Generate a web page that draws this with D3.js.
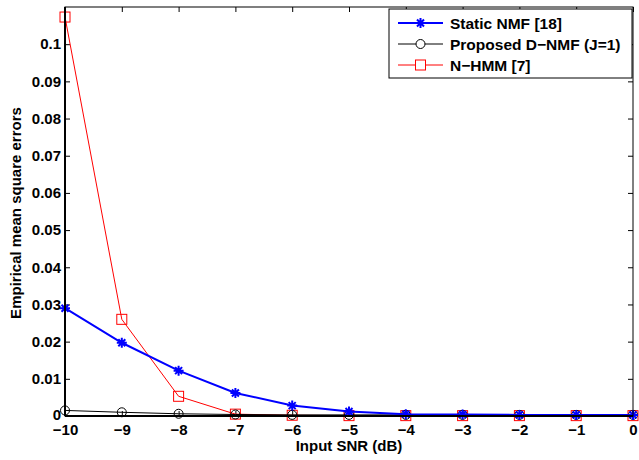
<!DOCTYPE html>
<html>
<head>
<meta charset="utf-8">
<script src="https://cdn.jsdelivr.net/npm/d3@7"></script>
<style>
  body { margin: 0; background: #fff; }
  svg { font-family: "Liberation Sans", Arial, sans-serif; font-weight: bold; }
</style>
</head>
<body>
<svg id="chart" width="639" height="460"></svg>
<script>
var snr = [-10, -9, -8, -7, -6, -5, -4, -3, -2, -1, 0];
var staticNmf = [0.0290, 0.0197, 0.0122, 0.0062, 0.0028, 0.0012, 0.0005, 0.0004, 0.0003, 0.0003, 0.0003];
var dNmf = [0.0015, 0.0010, 0.0006, 0.0004, 0.0003, 0.0003, 0.0003, 0.0003, 0.0003, 0.0003, 0.0003];
var nHmm = [0.1073, 0.0260, 0.0053, 0.0005, 0.0002, 0.0001, 0.0001, 0.0001, 0.0001, 0.0001, 0.0001];
var yTicks = [0, 0.01, 0.02, 0.03, 0.04, 0.05, 0.06, 0.07, 0.08, 0.09, 0.1];
var names = ['Static NMF [18]', 'Proposed D\u2212NMF (J=1)', 'N\u2212HMM [7]'];

var padL = 65, padR = 633, padT = 7, padB = 416;

var svg = d3.select('#chart');

var xScale = d3.scaleLinear().domain([-10, 0]).range([padL, padR]);
var yScale = d3.scaleLinear().domain([0, 0.11]).range([padB, padT]);

var fmtX = function (d) { return d < 0 ? '\u2212' + (-d) : d; };
var fmtY = function (d) { return d === 0 ? '0' : d3.format('.2~f')(d); };

// axes, inward ticks like matlab
svg.append('g')
  .attr('transform', 'translate(0,' + padB + ')')
  .call(d3.axisBottom(xScale).tickValues(snr).tickSizeInner(-5).tickSizeOuter(0).tickPadding(8).tickFormat(fmtX))
  .call(function (g) { g.select('.domain').remove(); })
  .selectAll('text').attr('font-size', 15).attr('font-weight', 'bold').attr('fill', '#000');

svg.append('g')
  .attr('transform', 'translate(' + padL + ',0)')
  .call(d3.axisLeft(yScale).tickValues(yTicks).tickSizeInner(-5).tickSizeOuter(0).tickPadding(4).tickFormat(fmtY))
  .call(function (g) { g.select('.domain').remove(); })
  .selectAll('text').attr('font-size', 15).attr('font-weight', 'bold').attr('fill', '#000')
  .attr('dy', function (d) { return d === 0 ? '0.2em' : '0.32em'; });

// mirrored ticks on top and right
svg.append('g')
  .attr('transform', 'translate(0,' + padT + ')')
  .call(d3.axisTop(xScale).tickValues(snr).tickSizeInner(-5).tickSizeOuter(0).tickFormat(''))
  .call(function (g) { g.select('.domain').remove(); });

svg.append('g')
  .attr('transform', 'translate(' + padR + ',0)')
  .call(d3.axisRight(yScale).tickValues(yTicks).tickSizeInner(-5).tickSizeOuter(0).tickFormat(''))
  .call(function (g) { g.select('.domain').remove(); });

var line = d3.line()
  .x(function (d) { return xScale(d[0]); })
  .y(function (d) { return yScale(d[1]); });

var zip = function (vals) { return snr.map(function (s, i) { return [s, vals[i]]; }); };

// N-HMM (red, squares)
svg.append('path').attr('d', line(zip(nHmm)))
  .attr('fill', 'none').attr('stroke', '#ff0000').attr('stroke-width', 1);
svg.selectAll('.sq').data(zip(nHmm)).enter().append('rect')
  .attr('x', function (d) { return xScale(d[0]) - 5; })
  .attr('y', function (d) { return yScale(d[1]) - 5; })
  .attr('width', 10).attr('height', 10)
  .attr('fill', 'none').attr('stroke', '#ff0000').attr('stroke-width', 1);

// Proposed (black, circles)
svg.append('path').attr('d', line(zip(dNmf)))
  .attr('fill', 'none').attr('stroke', '#000').attr('stroke-width', 1);
svg.selectAll('.ci').data(zip(dNmf)).enter().append('circle')
  .attr('cx', function (d) { return xScale(d[0]); })
  .attr('cy', function (d) { return yScale(d[1]); })
  .attr('r', 4.5)
  .attr('fill', 'none').attr('stroke', '#000').attr('stroke-width', 1);

// Static NMF (blue, stars)
var star = function (g, x, y) {
  var s = 5;
  g.append('path')
    .attr('d', 'M' + (x - s) + ',' + y + 'H' + (x + s) +
      'M' + x + ',' + (y - s) + 'V' + (y + s) +
      'M' + (x - s * 0.7) + ',' + (y - s * 0.7) + 'L' + (x + s * 0.7) + ',' + (y + s * 0.7) +
      'M' + (x - s * 0.7) + ',' + (y + s * 0.7) + 'L' + (x + s * 0.7) + ',' + (y - s * 0.7))
    .attr('stroke', '#0000ff').attr('stroke-width', 2).attr('fill', 'none');
};
svg.append('path').attr('d', line(zip(staticNmf)))
  .attr('fill', 'none').attr('stroke', '#0000ff').attr('stroke-width', 2);
zip(staticNmf).forEach(function (d) { star(svg, xScale(d[0]), yScale(d[1])); });

// box
svg.append('rect')
  .attr('x', padL).attr('y', padT)
  .attr('width', padR - padL).attr('height', padB - padT)
  .attr('fill', 'none').attr('stroke', '#000').attr('stroke-width', 1);
svg.append('line')
  .attr('x1', padL).attr('x2', padR).attr('y1', padB).attr('y2', padB)
  .attr('stroke', '#000').attr('stroke-width', 2);
svg.append('line')
  .attr('x1', padL).attr('x2', padL).attr('y1', padT).attr('y2', padB)
  .attr('stroke', '#000').attr('stroke-width', 2);

// axis labels
svg.append('text')
  .attr('x', (padL + padR) / 2).attr('y', 451)
  .attr('text-anchor', 'middle').attr('font-size', 15)
  .text('Input SNR (dB)');

svg.append('text')
  .attr('transform', 'translate(21,213) rotate(-90)')
  .attr('text-anchor', 'middle').attr('font-size', 15)
  .text('Empirical mean square errors');

// legend
var lg = svg.append('g').attr('transform', 'translate(389,9)');
lg.append('rect').attr('width', 243).attr('height', 69)
  .attr('fill', '#fff').attr('stroke', '#000').attr('stroke-width', 1);
var colors = ['#0000ff', '#000', '#ff0000'];
names.forEach(function (n, i) {
  var y = 14 + i * 21;
  lg.append('line').attr('x1', 9).attr('x2', 54).attr('y1', y).attr('y2', y)
    .attr('stroke', colors[i]).attr('stroke-width', i === 0 ? 2 : 1);
  if (i === 0) star(lg, 31.5, y);
  if (i === 1) lg.append('circle').attr('cx', 31.5).attr('cy', y).attr('r', 4.5)
    .attr('fill', '#fff').attr('stroke', '#000');
  if (i === 2) lg.append('rect').attr('x', 26.5).attr('y', y - 5).attr('width', 10).attr('height', 10)
    .attr('fill', '#fff').attr('stroke', '#ff0000');
  lg.append('text').attr('x', 61).attr('y', y + 5.5).attr('font-size', 15.5).text(n);
});
</script>
</body>
</html>
